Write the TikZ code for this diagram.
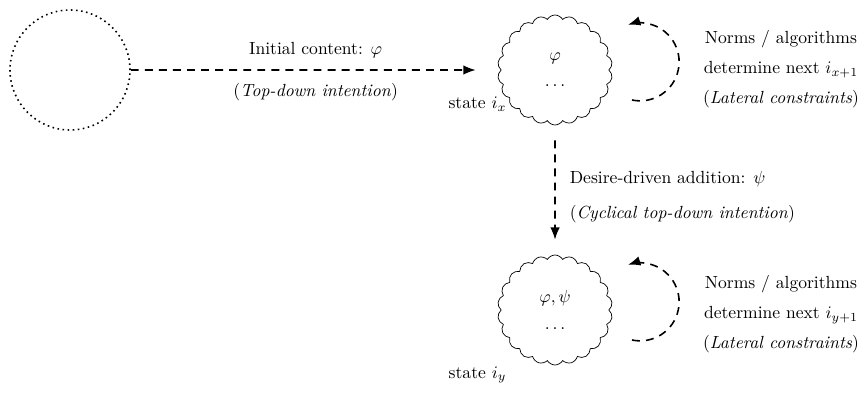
\documentclass[tikz,border=0pt]{standalone}
\usetikzlibrary{shapes.symbols, arrows.meta}
\begin{document}
\begin{tikzpicture}
        [>={Latex[length=7pt, width=5.5pt]}, inner sep=1mm,
         flow/.style={dash pattern=on 4.5pt off 3.5pt, line width=0.9pt, ->},
         state/.style={cloud, draw, cloud puffs=22, cloud puff arc=120, aspect=1,
                       minimum width=2.3cm, minimum height=2.2cm, inner sep=0pt,
                       align=center},
         note/.style={align=center}]
        \useasboundingbox (0, 0) rectangle (17.3, -7.88);
        \node (origin) at (1.4, -1.4)[circle, draw, dotted, line width=0.9pt,
                                      minimum size=2.4cm] {};
        \node (statex) at (11.1, -1.4)[state] {$\varphi$\\[3pt] $\dots$};
        \node (statey) at (11.1, -6.2)[state] {$\varphi, \psi$\\[3pt] $\dots$};
        \node (namex)  at (9.55, -2.08) {state $i_x$};
        \node (namey)  at (9.55, -7.5) {state $i_y$};
        \draw [flow, shorten >=0.5cm] (origin.east) -- (statex.west)
            node [pos=0.5, above, yshift=1.2mm] {Initial content: $\varphi$}
            node [pos=0.5, below, yshift=-1.5mm] {(\textit{Top-down intention})};
        \draw [flow, shorten <=0.3cm, shorten >=0.3cm] (statex.south) -- (statey.north)
            node [midway, right, align=left, xshift=1.8mm, yshift=-1.4mm]
                 {Desire-driven addition: $\psi$\\[8pt] (\textit{Cyclical top-down intention})};
        % self loops
        \coordinate (loopx) at (12.64, -2.0);
        \coordinate (loopy) at (12.64, -6.8);
        \draw [flow] (loopx) arc [start angle=-102, end angle=108, radius=0.78];
        \draw [flow] (loopy) arc [start angle=-102, end angle=108, radius=0.78];
        \node (lawx) at (15.62, -1.38)[note]
            {Norms / algorithms\\[5pt] determine next $i_{x+1}$\\[5pt] (\textit{Lateral constraints})};
        \node (lawy) at (15.62, -6.28)[note]
            {Norms / algorithms\\[5pt] determine next $i_{y+1}$\\[5pt] (\textit{Lateral constraints})};
    \end{tikzpicture}
\end{document}
